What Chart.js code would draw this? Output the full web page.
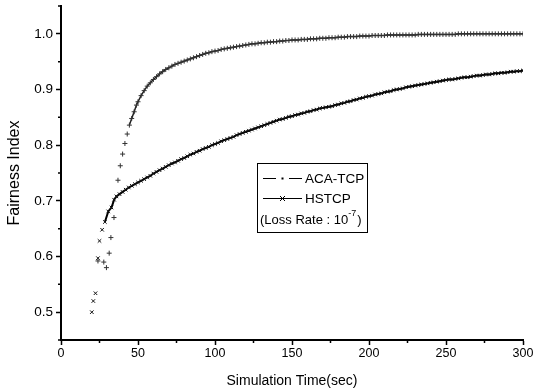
<!DOCTYPE html>
<html>
<head>
<meta charset="utf-8">
<script src="https://cdn.jsdelivr.net/npm/chart.js@4.4.0/dist/chart.umd.min.js"></script>
<style>
  body { margin: 0; background: #fff; }
</style>
</head>
<body>
<canvas id="myChart" width="533" height="392"></canvas>
<script>
// series names
const seriesNames = ['ACA-TCP', 'HSTCP'];

// scattered start-up points (sec, fairness)
const acaEarlyTime  = [24, 27.8, 29.5, 31.3, 32.4, 34.4, 37, 38.5, 40, 41.5, 43, 44.4, 45.9, 47.5, 49];
const acaEarlyValue = [0.592, 0.590, 0.580, 0.606, 0.634, 0.670, 0.737, 0.763, 0.784, 0.803, 0.820, 0.836, 0.848, 0.860, 0.872];
const hsEarlyTime   = [20, 21, 22.4, 24, 25, 26.7, 28.5, 30.7, 32.8, 34.5];
const hsEarlyValue  = [0.500, 0.520, 0.534, 0.597, 0.628, 0.648, 0.662, 0.681, 0.688, 0.702];

// dense part, read every 2 sec
const gridTime = [
   36,  38,  40,  42,  44,  46,  48,  50,  52,  54,
   56,  58,  60,  62,  64,  66,  68,  70,  72,  74,
   76,  78,  80,  82,  84,  86,  88,  90,  92,  94,
   96,  98, 100, 102, 104, 106, 108, 110, 112, 114,
  116, 118, 120, 122, 124, 126, 128, 130, 132, 134,
  136, 138, 140, 142, 144, 146, 148, 150, 152, 154,
  156, 158, 160, 162, 164, 166, 168, 170, 172, 174,
  176, 178, 180, 182, 184, 186, 188, 190, 192, 194,
  196, 198, 200, 202, 204, 206, 208, 210, 212, 214,
  216, 218, 220, 222, 224, 226, 228, 230, 232, 234,
  236, 238, 240, 242, 244, 246, 248, 250, 252, 254,
  256, 258, 260, 262, 264, 266, 268, 270, 272, 274,
  276, 278, 280, 282, 284, 286, 288, 290, 292, 294,
  296, 298, 300
];
const acaValue = [
  null, null, null, null, null, null, null, 0.878, 0.889, 0.898,
  0.906, 0.912, 0.918, 0.923, 0.928, 0.932, 0.936, 0.939, 0.942, 0.945,
  0.947, 0.949, 0.951, 0.953, 0.955, 0.957, 0.959, 0.961, 0.963, 0.965,
  0.966, 0.968, 0.969, 0.970, 0.972, 0.973, 0.974, 0.975, 0.976, 0.977,
  0.978, 0.979, 0.980, 0.981, 0.982, 0.982, 0.983, 0.984, 0.984, 0.985,
  0.985, 0.986, 0.986, 0.987, 0.987, 0.988, 0.988, 0.989, 0.989, 0.989,
  0.990, 0.990, 0.990, 0.991, 0.991, 0.991, 0.992, 0.992, 0.992, 0.993,
  0.993, 0.993, 0.994, 0.994, 0.994, 0.995, 0.995, 0.995, 0.995, 0.996,
  0.996, 0.996, 0.996, 0.997, 0.997, 0.997, 0.997, 0.997, 0.998, 0.998,
  0.998, 0.998, 0.998, 0.998, 0.998, 0.998, 0.998, 0.998, 0.999, 0.999,
  0.999, 0.999, 0.999, 0.999, 0.999, 0.999, 0.999, 0.999, 0.999, 0.999,
  0.999, 1.000, 1.000, 1.000, 1.000, 1.000, 1.000, 1.000, 1.000, 1.000,
  1.000, 1.000, 1.000, 1.000, 1.000, 1.000, 1.000, 1.000, 1.000, 1.000,
  1.000, 1.000, 1.000
];
const hsValue = [
  0.708, 0.712, 0.716, 0.720, 0.724, 0.727, 0.730, 0.733, 0.736, 0.739,
  0.742, 0.745, 0.749, 0.752, 0.755, 0.758, 0.761, 0.764, 0.767, 0.769,
  0.772, 0.775, 0.777, 0.780, 0.783, 0.785, 0.788, 0.790, 0.793, 0.795,
  0.797, 0.800, 0.802, 0.804, 0.807, 0.809, 0.811, 0.813, 0.815, 0.818,
  0.820, 0.822, 0.824, 0.826, 0.828, 0.830, 0.832, 0.834, 0.836, 0.838,
  0.840, 0.842, 0.844, 0.846, 0.847, 0.849, 0.851, 0.852, 0.854, 0.855,
  0.857, 0.858, 0.860, 0.861, 0.863, 0.864, 0.866, 0.867, 0.868, 0.869,
  0.870, 0.872, 0.873, 0.875, 0.876, 0.878, 0.879, 0.881, 0.882, 0.884,
  0.885, 0.887, 0.888, 0.889, 0.891, 0.892, 0.893, 0.895, 0.896, 0.897,
  0.899, 0.900, 0.901, 0.902, 0.904, 0.905, 0.906, 0.907, 0.908, 0.909,
  0.910, 0.911, 0.912, 0.913, 0.914, 0.915, 0.916, 0.917, 0.918, 0.918,
  0.919, 0.920, 0.921, 0.922, 0.922, 0.923, 0.924, 0.925, 0.925, 0.926,
  0.927, 0.927, 0.928, 0.929, 0.929, 0.930, 0.930, 0.931, 0.932, 0.932,
  0.933, 0.933, 0.934
];

// helper: time + value lists -> points
function toPoints(times, values) {
  const pts = [];
  times.forEach((t, i) => { if (values[i] !== null) pts.push({ x: t, y: values[i] }); });
  return pts;
}

const acaPoints = toPoints(acaEarlyTime, acaEarlyValue).concat(toPoints(gridTime, acaValue));
const hsPoints = toPoints(hsEarlyTime, hsEarlyValue).concat(toPoints(gridTime, hsValue));

const FONT = 'Liberation Sans, Arial, sans-serif';

// major ticks get the long mark from chart.js, minor ones drawn short here
const isMajorX = v => v % 50 === 0;
const isMajorY = v => Math.round(v * 100) % 10 === 0;

const minorTicks = {
  id: 'minorTicks',
  afterDraw(chart) {
    const ctx = chart.ctx;
    const xs = chart.scales.x, ys = chart.scales.y;
    ctx.save();
    ctx.strokeStyle = '#000';
    ctx.lineWidth = 1.5;
    ctx.beginPath();
    xs.ticks.forEach(t => {
      if (isMajorX(t.value)) return;
      const px = xs.getPixelForValue(t.value);
      ctx.moveTo(px, chart.chartArea.bottom);
      ctx.lineTo(px, chart.chartArea.bottom + 3);
    });
    ys.ticks.forEach(t => {
      if (isMajorY(t.value)) return;
      const py = ys.getPixelForValue(t.value);
      ctx.moveTo(chart.chartArea.left, py);
      ctx.lineTo(chart.chartArea.left - 3, py);
    });
    ctx.stroke();
    ctx.restore();
  }
};

// legend box drawn on the canvas
const legendBox = {
  id: 'legendBox',
  afterDatasetsDraw(chart) {
    const ctx = chart.ctx;
    ctx.save();
    ctx.fillStyle = '#fff';
    ctx.fillRect(257, 163, 110, 69);
    ctx.strokeStyle = '#000';
    ctx.lineWidth = 1;
    ctx.strokeRect(257.5, 163.5, 110, 69);

    // ACA-TCP symbol  — · —
    ctx.beginPath();
    ctx.moveTo(263, 178.5); ctx.lineTo(276, 178.5);
    ctx.moveTo(289, 178.5); ctx.lineTo(302, 178.5);
    ctx.stroke();
    ctx.fillStyle = '#000';
    ctx.fillRect(281.5, 177.5, 2, 2);
    // HSTCP symbol  —×—
    ctx.beginPath();
    ctx.moveTo(263, 198.5); ctx.lineTo(302, 198.5);
    ctx.moveTo(280, 201); ctx.lineTo(285, 196);
    ctx.moveTo(280, 196); ctx.lineTo(285, 201);
    ctx.stroke();

    ctx.fillStyle = '#000';
    ctx.font = '13.5px ' + FONT;
    ctx.textBaseline = 'middle';
    ctx.fillText(seriesNames[0], 305, 179);
    ctx.fillText(seriesNames[1], 305, 199);
    ctx.font = '13px ' + FONT;
    const base = '(Loss Rate : 10';
    ctx.fillText(base, 260, 220);
    let x = 260 + ctx.measureText(base).width;
    ctx.font = '9px ' + FONT;
    ctx.fillText('-7', x, 214);
    x += ctx.measureText('-7').width + 1;
    ctx.font = '13px ' + FONT;
    ctx.fillText(')', x, 220);
    ctx.restore();
  }
};

const data = {
  datasets: [
    {
      label: seriesNames[0],
      data: acaPoints,
      borderColor: '#222',
      borderWidth: 1.5,
      pointStyle: 'cross',
      pointRadius: 2.5,
      pointBorderWidth: 1,
      pointBorderColor: '#333',
      segment: {
        borderColor: c => c.p0.parsed.x < 44 ? 'rgba(0,0,0,0)' : '#222'
      }
    },
    {
      label: seriesNames[1],
      data: hsPoints,
      borderColor: '#000',
      borderWidth: 2,
      pointStyle: 'crossRot',
      pointRadius: 2.5,
      pointBorderWidth: 1,
      pointBorderColor: '#111',
      segment: {
        borderColor: c => c.p0.parsed.x < 28 ? 'rgba(0,0,0,0)' : '#000'
      }
    }
  ]
};

const config = {
  type: 'line',
  data,
  options: {
    responsive: false,
    animation: false,
    layout: { padding: { top: 6, right: 10, left: 0, bottom: 0 } },
    plugins: {
      legend: { display: false },
      tooltip: { enabled: false }
    },
    scales: {
      x: {
        type: 'linear',
        min: 0,
        max: 300,
        afterFit: s => { s.height = 52; s.paddingLeft = 0; s.paddingRight = 0; },
        border: { display: true, color: '#000', width: 2 },
        grid: {
          drawOnChartArea: false,
          tickLength: 5,
          tickWidth: 1.5,
          tickColor: c => (c.tick && isMajorX(c.tick.value)) ? '#000' : 'rgba(0,0,0,0)'
        },
        ticks: {
          stepSize: 25,
          color: '#000',
          font: { family: FONT, size: 12.5 },
          padding: 1,
          maxRotation: 0,
          autoSkip: false,
          callback: v => (isMajorX(v) ? v : '')
        },
        title: {
          display: true,
          text: 'Simulation Time(sec)',
          color: '#000',
          font: { family: FONT, size: 14 },
          padding: { top: 0, bottom: 2 }
        }
      },
      y: {
        min: 0.45,
        max: 1.05,
        afterFit: s => { s.width = 61; s.paddingTop = 0; s.paddingBottom = 0; },
        border: { display: true, color: '#000', width: 2 },
        grid: {
          drawOnChartArea: false,
          tickLength: 5,
          tickWidth: 1.5,
          tickColor: c => (c.tick && isMajorY(c.tick.value)) ? '#000' : 'rgba(0,0,0,0)'
        },
        ticks: {
          stepSize: 0.05,
          color: '#000',
          font: { family: FONT, size: 13.5 },
          padding: 3,
          autoSkip: false,
          callback: v => (isMajorY(v) ? (Math.round(v * 10) / 10).toFixed(1) : '')
        },
        title: {
          display: true,
          text: 'Fairness Index',
          color: '#000',
          font: { family: FONT, size: 16 },
          padding: { top: 5, bottom: 0 }
        }
      }
    }
  },
  plugins: [minorTicks, legendBox]
};

const myChart = new Chart(document.getElementById('myChart'), config);
</script>
</body>
</html>
